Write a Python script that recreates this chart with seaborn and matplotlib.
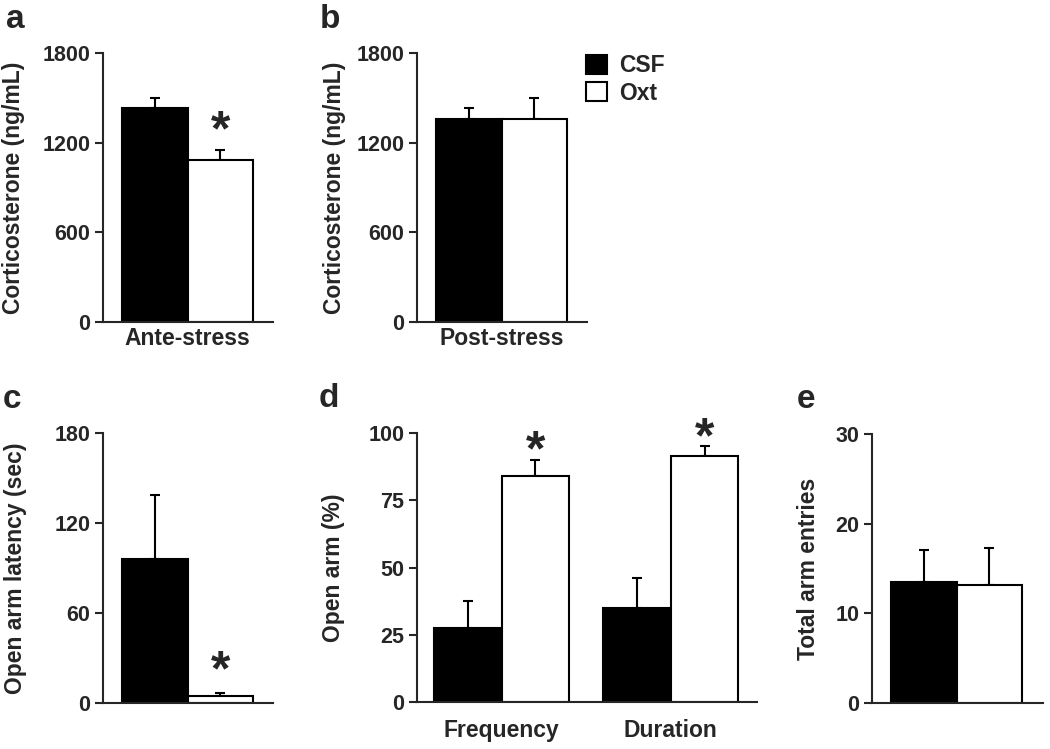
import pandas as pd
import matplotlib
matplotlib.use("Agg")
import matplotlib.pyplot as plt
import seaborn as sns
from matplotlib.patches import Patch

# ── Data ───────────────────────────────────────────────────────────────────────
groups = ["CSF", "Oxt"]
group_colors = {"CSF": "black", "Oxt": "white"}

ante_mean = [1432, 1084]
ante_sem = [67, 67]
ante_sig = [False, True]

post_mean = [1358, 1358]
post_sem = [74, 141]
post_sig = [False, False]

latency_mean = [96, 4.5]
latency_sem = [43, 2]
latency_sig = [False, True]

open_measures = ["Frequency", "Duration"]
open_csf_mean = [27.5, 35]
open_csf_sem = [10, 11]
open_oxt_mean = [84, 91.5]
open_oxt_sem = [6, 3.5]
open_oxt_sig = [True, True]

entries_mean = [13.5, 13.2]
entries_sem = [3.6, 4.1]
entries_sig = [False, False]

# ── Style ──────────────────────────────────────────────────────────────────────
sns.set_style("ticks")
plt.rcParams["font.family"] = ["Liberation Sans", "DejaVu Sans"]
plt.rcParams["font.weight"] = "bold"
plt.rcParams["axes.labelweight"] = "bold"
plt.rcParams["axes.linewidth"] = 1.5

W, H = 1050, 749
fig = plt.figure(figsize=(W / 100, H / 100), dpi=100)


def add_ax(left, right, top, bottom):
    return fig.add_axes([left / W, 1 - bottom / H, (right - left) / W, (bottom - top) / H])


def panel(ax, cats, means, sems, sigs, ylim, yticks, ylabel, xlim, label_x,
          star_off, xpad):
    rows = []
    for g in groups:
        for i, c in enumerate(cats):
            rows.append({"cond": c, "group": g, "mean": means[g][i],
                         "sem": sems[g][i], "sig": sigs[g][i]})
    df = pd.DataFrame(rows)
    sns.barplot(data=df, x="cond", y="mean", hue="group", order=cats,
                hue_order=groups, palette=group_colors, saturation=1,
                edgecolor="black", linewidth=1.5, errorbar=None,
                legend=False, ax=ax)
    xs = [p.get_x() + p.get_width() / 2 for p in ax.patches]
    ax.errorbar(xs, df["mean"], yerr=[[0] * len(df), df["sem"]], fmt="none",
                ecolor="black", elinewidth=1.5, capsize=3.6, capthick=1.5,
                zorder=0.5)
    for x, (_, r) in zip(xs, df.iterrows()):
        if r["sig"]:
            ax.annotate("*", (x, r["mean"] + r["sem"]), xytext=(0, star_off),
                        textcoords="offset points", ha="center", va="baseline",
                        fontsize=36, fontweight="bold")
    ax.set_ylim(*ylim)
    ax.set_yticks(yticks)
    ax.set_xlim(*xlim)
    ax.set_xlabel("")
    ax.set_ylabel(ylabel, fontsize=16.5, fontweight="bold")
    ax.yaxis.set_label_coords(label_x, 0.5)
    ax.tick_params(axis="y", length=6, width=1.5, pad=3, labelsize=15.5)
    ax.tick_params(axis="x", length=0, pad=xpad, labelsize=16.5)
    for t in ax.get_xticklabels() + ax.get_yticklabels():
        t.set_fontweight("bold")
    sns.despine(ax=ax)


# a: ante-stress corticosterone
ax_a = add_ax(103, 273, 53, 322)
panel(ax_a, ["Ante-stress"], dict(zip(groups, [[v] for v in ante_mean])),
      dict(zip(groups, [[v] for v in ante_sem])),
      dict(zip(groups, [[v] for v in ante_sig])),
      (0, 1800), [0, 600, 1200, 1800], "Corticosterone (ng/mL)",
      (-0.515, 0.52), -0.459, 3.5, 3.5)

# b: post-stress corticosterone
ax_b = add_ax(417, 587, 53, 322)
panel(ax_b, ["Post-stress"], dict(zip(groups, [[v] for v in post_mean])),
      dict(zip(groups, [[v] for v in post_sem])),
      dict(zip(groups, [[v] for v in post_sig])),
      (0, 1800), [0, 600, 1200, 1800], "Corticosterone (ng/mL)",
      (-0.515, 0.52), -0.418, 3.5, 3.5)

# c: open arm latency
ax_c = add_ax(103, 273, 433, 703)
panel(ax_c, [""], dict(zip(groups, [[v] for v in latency_mean])),
      dict(zip(groups, [[v] for v in latency_sem])),
      dict(zip(groups, [[v] for v in latency_sig])),
      (0, 180), [0, 60, 120, 180], "Open arm latency (sec)",
      (-0.515, 0.52), -0.447, 5.5, 3.5)

# d: open arm frequency / duration
ax_d = add_ax(417, 757, 433, 702)
panel(ax_d, open_measures, {"CSF": open_csf_mean, "Oxt": open_oxt_mean},
      {"CSF": open_csf_sem, "Oxt": open_oxt_sem},
      {"CSF": [False, False], "Oxt": open_oxt_sig},
      (0, 100), [0, 25, 50, 75, 100], "Open arm (%)",
      (-0.5, 1.51), -0.212, -4, 12)

# e: total arm entries
ax_e = add_ax(872, 1043, 434, 703)
panel(ax_e, [""], dict(zip(groups, [[v] for v in entries_mean])),
      dict(zip(groups, [[v] for v in entries_sem])),
      dict(zip(groups, [[v] for v in entries_sig])),
      (0, 30), [0, 10, 20, 30], "Total arm entries",
      (-0.515, 0.527), -0.304, 0, 3.5)

# legend next to panel b
handles = [Patch(facecolor=group_colors[g], edgecolor="black", linewidth=1.5, label=g)
           for g in groups]
fig.legend(handles=handles, loc="upper left", bbox_to_anchor=(586 / W, 1 - 54 / H),
           frameon=False, handlelength=0.9, handleheight=0.9,
           handletextpad=0.55, labelspacing=0.2, borderpad=0, borderaxespad=0,
           prop={"weight": "bold", "size": 16.5})

# panel letters
for letter, (px, py) in {"a": (6, 28), "b": (320, 28), "c": (3, 408),
                         "d": (319, 407), "e": (797, 408)}.items():
    fig.text(px / W, 1 - py / H, letter, fontsize=24, fontweight="bold",
             ha="left", va="baseline")

fig.savefig("out.png", dpi=100)
